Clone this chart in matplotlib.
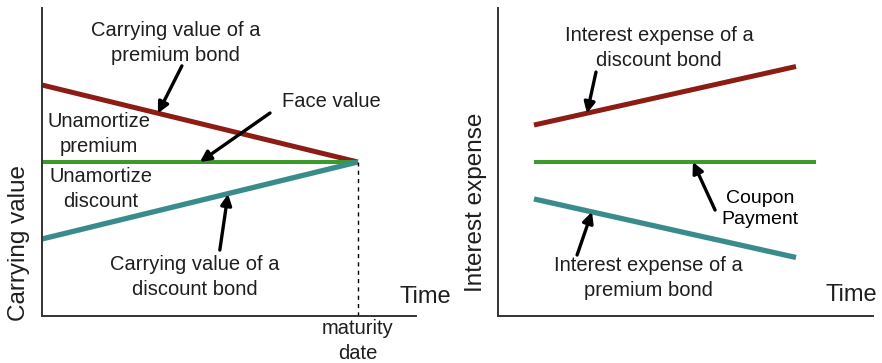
import matplotlib
matplotlib.use("Agg")
import matplotlib.pyplot as plt

plt.rcParams['font.family'] = ['Liberation Sans', 'DejaVu Sans']

# left panel: carrying value over time (maturity at t = 10)
cv_time = [0, 10]
cv_premium = [125, 100]
cv_face = [100, 100]
cv_discount = [75, 100]
maturity = 10

# right panel: interest expense per period
ie_time = [1, 10]
ie_discount = [112, 131]
ie_premium = [88, 69]
coupon_time = [1, 10.7]
coupon = [100, 100]

RED = '#8c1c14'
GREEN = '#3c9a2c'
TEAL = '#3a8c8c'
TXT = '#1e1e1e'

fig = plt.figure(figsize=(8.82, 3.63), dpi=100)
ax1 = fig.add_axes([0.0476, 0.1295, 0.424, 0.8485])
ax2 = fig.add_axes([0.5646, 0.1295, 0.4252, 0.8485])

for ax in (ax1, ax2):
    for s in ('top', 'right'):
        ax.spines[s].set_visible(False)
    for s in ('left', 'bottom'):
        ax.spines[s].set_linewidth(1.4)
        ax.spines[s].set_color('#333333')
    ax.set_xticks([])
    ax.set_yticks([])
    ax.set_ylim(50, 150)

arrow = dict(arrowstyle='-|>', lw=2.4, color='black', mutation_scale=16, shrinkA=0, shrinkB=0)
lab = dict(fontsize=14.5, color=TXT, ha='center', va='center', linespacing=1.4)

# ---- left panel
ax1.set_xlim(0, 11.84)
ax1.plot(cv_time, cv_premium, color=RED, lw=3.6, solid_capstyle='butt')
ax1.plot(cv_time, cv_face, color=GREEN, lw=2.9, solid_capstyle='butt')
ax1.plot(cv_time, cv_discount, color=TEAL, lw=3.8, solid_capstyle='butt')
ax1.vlines(maturity, 50, cv_face[-1], colors='black', linestyles=(0, (3, 3)), lw=1)

ax1.annotate('', xy=(3.67, 115.8), xytext=(4.43, 131.2), arrowprops=arrow)
ax1.annotate('', xy=(5.0, 100.0), xytext=(7.22, 115.9), arrowprops=arrow)
ax1.annotate('', xy=(5.89, 89.6), xytext=(5.63, 71.4), arrowprops=arrow)

ax1.text(4.24, 138.6, 'Carrying value of a\npremium bond', **lab)
ax1.text(9.15, 119.8, 'Face value', **lab)
ax1.text(1.80, 109.1, 'Unamortize\npremium', **lab)
ax1.text(1.87, 91.2, 'Unamortize\ndiscount', **lab)
ax1.text(4.84, 62.7, 'Carrying value of a\ndiscount bond', **lab)
ax1.text(maturity, 42.0, 'maturity\ndate', clip_on=False, **lab)
ax1.text(11.33, 56.2, 'Time', fontsize=17, color=TXT, ha='left', va='center')

ax1.set_ylabel('Carrying value', fontsize=17.5, color=TXT)
ax1.yaxis.set_label_coords(-0.032, 0.237)

# ---- right panel
ax2.set_xlim(-0.237, 12.645)
ax2.plot(ie_time, ie_discount, color=RED, lw=3.6, solid_capstyle='butt')
ax2.plot(coupon_time, coupon, color=GREEN, lw=2.9, solid_capstyle='butt')
ax2.plot(ie_time, ie_premium, color=TEAL, lw=3.8, solid_capstyle='butt')

ax2.annotate('', xy=(2.82, 115.8), xytext=(3.13, 129.2), arrowprops=arrow)
ax2.annotate('', xy=(6.46, 100.0), xytext=(7.22, 84.4), arrowprops=arrow)
ax2.annotate('', xy=(2.99, 83.8), xytext=(2.48, 69.8), arrowprops=arrow)

ax2.text(5.29, 137.0, 'Interest expense of a\ndiscount bond', **lab)
ax2.text(8.76, 84.7, 'Coupon\nPayment', fontsize=14, color='black', ha='center',
         va='center', linespacing=1.3)
ax2.text(4.92, 62.3, 'Interest expense of a\npremium bond', **lab)
ax2.text(11.0, 56.8, 'Time', fontsize=17, color=TXT, ha='left', va='center', clip_on=False)

ax2.set_ylabel('Interest expense', fontsize=17.5, color=TXT)
ax2.yaxis.set_label_coords(-0.029, 0.37)

fig.savefig('out.png', dpi=100)
